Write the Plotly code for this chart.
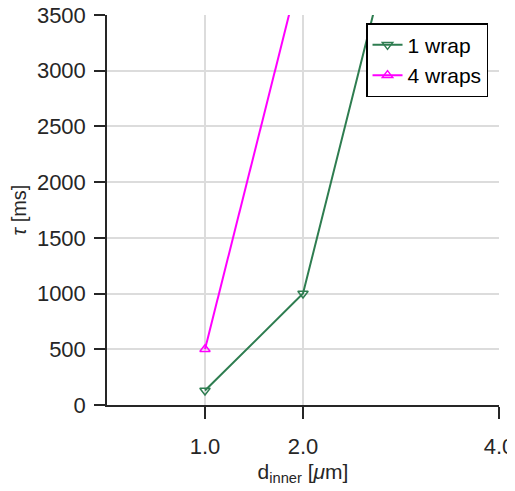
import plotly.graph_objects as go

# Data
d_one_wrap = [1.0, 2.0, 4.0]
tau_one_wrap = [130, 1000, 8000]
d_four_wraps = [1.0, 2.0]
tau_four_wraps = [500, 4000]
x_tick_vals = [1.0, 2.0, 4.0]
x_tick_text = ["1.0", "2.0", "4.0"]
y_tick_vals = [0, 500, 1000, 1500, 2000, 2500, 3000, 3500]

green = "rgb(46,125,80)"
magenta = "rgb(255,0,255)"
font_family = "Liberation Sans, Arial, sans-serif"
axis_color = "#262626"

fig = go.Figure()
fig.add_trace(go.Scatter(
    x=d_one_wrap, y=tau_one_wrap, mode="lines+markers", name="1 wrap",
    line=dict(color=green, width=2),
    marker=dict(symbol="triangle-down-open", size=9, color=green, line=dict(width=1.5)),
    cliponaxis=True,
))
fig.add_trace(go.Scatter(
    x=d_four_wraps, y=tau_four_wraps, mode="lines+markers", name="4 wraps",
    line=dict(color=magenta, width=2),
    marker=dict(symbol="triangle-up-open", size=9, color=magenta, line=dict(width=1.5)),
    cliponaxis=True,
))

fig.update_layout(
    width=507, height=483,
    margin=dict(l=99, r=16, t=7, b=86),
    paper_bgcolor="white", plot_bgcolor="white",
    font=dict(family=font_family, size=22, color=axis_color),
    showlegend=True,
    legend=dict(
        x=0.972, y=0.979, xanchor="right", yanchor="top",
        bgcolor="white", bordercolor="black", borderwidth=1.5,
        font=dict(size=21, color="black"),
        itemwidth=30, tracegroupgap=0,
    ),
)
fig.update_xaxes(
    range=[0, 4.0], tickvals=x_tick_vals, ticktext=x_tick_text,
    showgrid=True, gridcolor="#dcdcdc", gridwidth=1.5,
    showline=True, linecolor=axis_color, linewidth=1.5,
    ticks="outside", ticklen=12, tickwidth=1.5, tickcolor=axis_color,
    ticklabelstandoff=9, ticklabeloverflow="allow",
    zeroline=False, automargin=False,
    title=dict(text="d<sub>inner</sub> [<i>μ</i>m]", font=dict(size=21), standoff=6),
)
fig.update_yaxes(
    range=[0, 3500], tickvals=y_tick_vals,
    showgrid=True, gridcolor="#dcdcdc", gridwidth=1.5,
    showline=True, linecolor=axis_color, linewidth=1.5,
    ticks="outside", ticklen=11, tickwidth=1.5, tickcolor=axis_color,
    ticklabelstandoff=4, ticklabeloverflow="allow",
    zeroline=False, automargin=False,
    title=dict(text="<i>τ</i> [ms]", font=dict(size=20), standoff=6),
)

fig.write_html("out.html")
